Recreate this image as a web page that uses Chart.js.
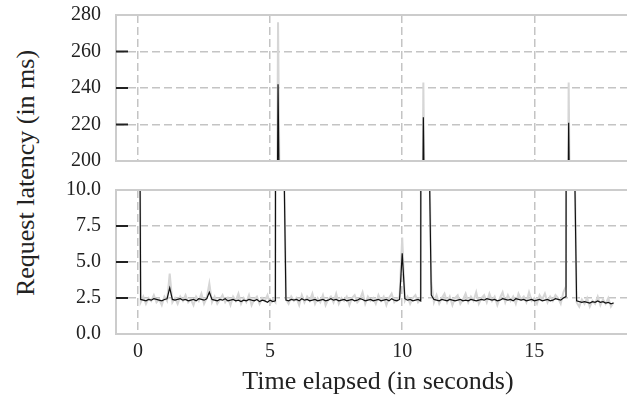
<!DOCTYPE html>
<html>
<head>
<meta charset="utf-8">
<script src="https://cdn.jsdelivr.net/npm/chart.js@4/dist/chart.umd.min.js"></script>
<style>
	body { margin: 0; width: 627px; height: 400px; overflow: hidden; background: #fff; position: relative; }
	.box { position: absolute; left: 0; width: 640px; }
	#yTitle {
		position: absolute; left: -174px; top: 158px; width: 400px; height: 30px;
		line-height: 30px; text-align: center; transform: rotate(-90deg);
		font: 26px 'Liberation Serif', serif; color: #222;
	}
</style>
</head>
<body>
<div id="yTitle">Request latency (in ms)</div>
<div class="box" style="top:0;height:180px"><canvas id="topChart"></canvas></div>
<div class="box" style="top:170px;height:230px"><canvas id="bottomChart"></canvas></div>
<script>
// sampling step of the recording, seconds
const sampleStep = 0.1;

// raw request latency (ms), one value per sample
const rawLatency = [
	40, 2.2, 2.6, 2.1, 2.5, 2.3, 2.7, 2.2, 2.4, 2.0,
	2.6, 2.3, 4.2, 2.2, 2.5, 2.1, 2.6, 2.3, 2.7, 2.2,
	2.4, 2.0, 2.6, 2.3, 2.8, 2.1, 2.5, 3.5, 2.2, 2.6,
	2.1, 2.4, 2.7, 2.2, 2.5, 2.0, 2.6, 2.3, 2.8, 2.1,
	2.5, 2.2, 2.7, 2.0, 2.4, 2.6, 2.1, 2.5, 2.3, 2.7,
	2.1, 2.4, 2.2, 276, 120, 16, 2.4, 2.1, 2.6, 2.3,
	2.5, 2.0, 2.7, 2.2, 2.6, 2.3, 2.8, 2.1, 2.5, 2.2,
	2.7, 2.0, 2.4, 2.6, 2.2, 2.8, 2.1, 2.5, 2.3, 2.6,
	2.0, 2.5, 2.7, 2.2, 2.4, 2.9, 2.1, 2.6, 2.3, 2.5,
	2.1, 2.7, 2.3, 2.6, 2.0, 2.5, 2.8, 2.2, 2.4, 2.6,
	6.7, 2.3, 2.6, 2.1, 2.5, 2.7, 2.2, 2.4, 243, 100,
	16, 3.6, 2.2, 2.7, 2.1, 2.5, 2.8, 2.2, 2.6, 2.0,
	2.5, 2.7, 2.1, 2.4, 2.8, 2.2, 2.6, 2.3, 2.9, 2.1,
	2.5, 2.7, 2.2, 2.8, 2.3, 2.6, 2.0, 2.5, 2.9, 2.2,
	2.7, 2.3, 2.6, 2.1, 2.8, 2.4, 2.6, 2.2, 2.9, 2.3,
	2.5, 2.1, 2.7, 2.4, 2.8, 2.2, 2.6, 2.3, 2.7, 2.5,
	2.1, 2.9, 3.3, 243, 95, 16, 2.2, 1.9, 2.4, 2.1,
	2.5, 1.9, 2.3, 2.1, 2.6, 2.0, 2.4, 2.1, 2.5, 1.9,
	2.2,
];

// smoothed request latency (ms)
const smoothLatency = [
	40, 2.4, 2.35, 2.3, 2.4, 2.35, 2.45, 2.4, 2.35, 2.3,
	2.4, 2.45, 3.2, 2.4, 2.35, 2.4, 2.45, 2.35, 2.4, 2.3,
	2.35, 2.4, 2.3, 2.45, 2.4, 2.35, 2.45, 2.9, 2.4, 2.35,
	2.3, 2.4, 2.35, 2.45, 2.3, 2.35, 2.4, 2.3, 2.35, 2.25,
	2.35, 2.3, 2.4, 2.35, 2.3, 2.4, 2.25, 2.35, 2.3, 2.2,
	2.35, 2.25, 2.3, 242, 110, 15, 2.35, 2.3, 2.4, 2.35,
	2.4, 2.3, 2.45, 2.35, 2.4, 2.3, 2.35, 2.4, 2.3, 2.35,
	2.4, 2.3, 2.35, 2.45, 2.35, 2.4, 2.3, 2.35, 2.4, 2.3,
	2.35, 2.4, 2.3, 2.35, 2.45, 2.4, 2.3, 2.35, 2.4, 2.3,
	2.35, 2.4, 2.3, 2.35, 2.4, 2.3, 2.45, 2.35, 2.3, 2.4,
	5.6, 2.45, 2.35, 2.4, 2.3, 2.35, 2.4, 2.3, 224, 90,
	15, 2.7, 2.4, 2.35, 2.3, 2.4, 2.35, 2.3, 2.4, 2.35,
	2.3, 2.35, 2.4, 2.3, 2.35, 2.3, 2.4, 2.35, 2.3, 2.35,
	2.4, 2.35, 2.45, 2.4, 2.35, 2.4, 2.3, 2.35, 2.45, 2.4,
	2.35, 2.4, 2.3, 2.45, 2.4, 2.35, 2.4, 2.3, 2.35, 2.4,
	2.3, 2.35, 2.4, 2.3, 2.35, 2.4, 2.3, 2.35, 2.45, 2.4,
	2.35, 2.5, 2.6, 221, 85, 15, 2.3, 2.25, 2.2, 2.25,
	2.2, 2.15, 2.25, 2.2, 2.3, 2.2, 2.25, 2.15, 2.2, 2.1,
	2.15,
];

const xTicks = [0, 5, 10, 15];
const topTicks = [200, 220, 240, 260, 280];
const bottomTicks = [0, 2.5, 5, 7.5, 10];

const times = rawLatency.map((_, i) => +(i * sampleStep).toFixed(2));
const toPoints = arr => arr.map((v, i) => ({ x: times[i], y: v }));

const font = { family: "'Liberation Serif', serif", size: 20 };
const gridColor = '#c4c4c4';

const framePlugin = {
	id: 'frame',
	afterDatasetsDraw(chart) {
		const { ctx, chartArea: a, scales: { y } } = chart;
		ctx.save();
		ctx.strokeStyle = '#cccccc';
		ctx.lineWidth = 2;
		ctx.strokeRect(a.left, a.top, a.right - a.left, a.bottom - a.top);
		ctx.strokeStyle = '#222';
		y.ticks.forEach(t => {
			if (t.value <= y.min || t.value >= y.max) return;
			const py = y.getPixelForValue(t.value);
			ctx.beginPath();
			ctx.moveTo(a.left, py);
			ctx.lineTo(a.left + 12, py);
			ctx.stroke();
		});
		ctx.restore();
	},
};

const noMargins = s => {
	s.paddingTop = 0;
	s.paddingBottom = 0;
	s.paddingLeft = 0;
	s.paddingRight = 0;
};

function makeChart(el, opts) {
	return new Chart(el, {
		type: 'line',
		data: {
			datasets: [
				{
					data: toPoints(smoothLatency),
					borderColor: '#111',
					borderWidth: 1.2,
					pointRadius: 0,
				},
				{
					data: toPoints(rawLatency),
					borderColor: '#d6d6d6',
					borderWidth: 2,
					pointRadius: 0,
				},
			],
		},
		options: {
			animation: false,
			responsive: true,
			maintainAspectRatio: false,
			events: [],
			layout: { padding: opts.padding },
			plugins: { legend: { display: false }, tooltip: { enabled: false } },
			scales: {
				x: {
					type: 'linear',
					min: -0.833,
					max: 19.0,
					afterBuildTicks: s => { s.ticks = xTicks.map(v => ({ value: v })); },
					afterFit: s => { s.height = opts.xHeight; noMargins(s); },
					grid: { color: gridColor, lineWidth: 1.5, drawTicks: false },
					border: { display: false, dash: [8, 4] },
					ticks: { display: opts.xLabels, font, color: '#222', padding: 6 },
					title: {
						display: opts.xLabels,
						text: 'Time elapsed (in seconds)',
						font: { family: font.family, size: 26 },
						color: '#222',
						padding: { top: 0, bottom: 2 },
					},
				},
				y: {
					min: opts.yTicks[0],
					max: opts.yTicks[opts.yTicks.length - 1],
					afterBuildTicks: s => { s.ticks = opts.yTicks.map(v => ({ value: v })); },
					afterFit: s => { s.width = 116; noMargins(s); },
					grid: { color: gridColor, lineWidth: 1.5, drawTicks: false },
					border: { display: false, dash: [8, 4] },
					ticks: { font, color: '#222', padding: 15, callback: opts.fmt },
				},
			},
		},
		plugins: [framePlugin],
	});
}

makeChart(document.querySelector('#topChart'), {
	padding: { top: 15, bottom: 19, left: 0, right: 0 },
	xHeight: 0,
	xLabels: false,
	yTicks: topTicks,
	fmt: v => String(v),
});

makeChart(document.querySelector('#bottomChart'), {
	padding: { top: 20, bottom: 0, left: 0, right: 0 },
	xHeight: 66,
	xLabels: true,
	yTicks: bottomTicks,
	fmt: v => v.toFixed(1),
});
</script>
</body>
</html>
